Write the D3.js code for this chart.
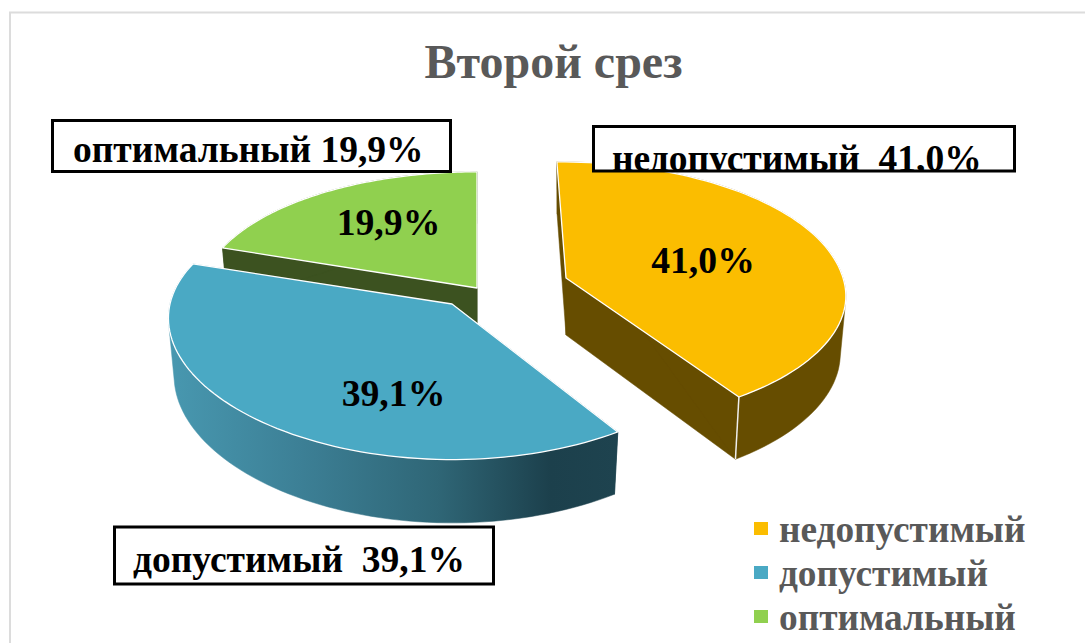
<!DOCTYPE html>
<html><head><meta charset="utf-8">
<script src="https://cdn.jsdelivr.net/npm/d3@7"></script>
<style>html,body{margin:0;padding:0;background:#fff}svg{display:block}text{font-family:"Liberation Serif",serif;font-weight:bold}</style>
</head><body><svg id="c" width="1085" height="643"></svg>
<script>
const title = "Второй срез";
const categories = ["недопустимый","допустимый","оптимальный"];
const values = [41.0,39.1,19.9];
const valueLabels = ["41,0%","39,1%","19,9%"];
const calloutTexts = ["недопустимый  41,0%","допустимый  39,1%","оптимальный 19,9%"];
const topColors = ["#FBBD00","#4AA9C4","#90D04F"];
const wallColors = ["#664D00","url(#blueWall)","#3C5220"];

const W=1085,H=643;
const svg=d3.select("#c");
const defs=svg.append("defs");
const grad=defs.append("linearGradient").attr("id","blueWall");
[[0,"#4898B0"],[.3,"#3C7F95"],[.6,"#2F6676"],[.85,"#1C404C"],[1,"#1E434F"]].forEach(s=>grad.append("stop").attr("offset",s[0]).attr("stop-color",s[1]));

// frame
svg.append("path").attr("d","M10,643V12.5H1085").attr("fill","none").attr("stroke","#DCDCDC").attr("stroke-width",2);

// geometry of the exploded perspective pie
const apex=[[566,278],[452,304],[477,288]];
const frontY=[.93,1,1];
const radiusX=[277,282,277];
const leanBy=[72,0,0];
const RY=133,KX=.105,KY=.145,DEPTH=57,BOTTOM_SHRINK=.98;
function project(i,a,r,down){
  const u=Math.sin(a)*r,v=Math.cos(a)*r;
  const sx=1/(1+KX*v),sy=1/(1+KY*v);
  const lean=leanBy[i]*(sy-1);
  const fy=v<0?frontY[i]:1;
  const dx=(radiusX[i]*u*sx+lean)*(down?BOTTOM_SHRINK:1);
  return [apex[i][0]+dx, apex[i][1]-RY*v*sy*fy+(down?DEPTH/(1+.1*v):0)];
}
const pie=d3.pie().sort(null).startAngle(0).endAngle(2*Math.PI)(values);
const line=d3.line().curve(d3.curveLinear);
const arcPts=(i,d,down)=>{
  const n=80, t=d3.scaleLinear().domain([0,n]).range([d.startAngle,d.endAngle]);
  return d3.range(n+1).map(k=>project(i,t(k),1,down));
};
[2,0,1].forEach(i=>{
  const d=pie[i],g=svg.append("g");
  const col=wallColors[i];
  const edge=a=>[project(i,a,0,false),project(i,a,1,false),project(i,a,1,true),project(i,a,0,true)];
  const wall=p=>g.append("path").attr("d",line(p)+"Z").attr("fill",col).attr("stroke",col).attr("stroke-width",.5);
  wall(edge(d.startAngle));
  wall(edge(d.endAngle));
  wall(d3.polygonHull(arcPts(i,d,false).concat(arcPts(i,d,true))));
  if(i===0){
    g.append("path").attr("d",line([project(i,d.endAngle,1,false),project(i,d.endAngle,1,true)])).attr("stroke","#EFEFEF").attr("stroke-width",1.5).attr("fill","none");
  }
  g.append("path").attr("d",line([project(i,d.startAngle,0,false)].concat(arcPts(i,d,false)))+"Z")
    .attr("fill",topColors[i]).attr("stroke","#fff").attr("stroke-width",1.3).attr("stroke-linejoin","round");
});

// value labels
const valuePos=[[703,273],[393.5,406],[388.5,235]];
valueLabels.forEach((t,i)=>svg.append("text").attr("x",valuePos[i][0]).attr("y",valuePos[i][1]).attr("text-anchor","middle").attr("font-size",37.7).attr("fill","#000").text(t));

// callouts
const boxes=[[593.5,126.5,421,44.5,612,171],[114.5,527,379,57,133,572],[52.5,120.5,398,51,73,162]];
calloutTexts.forEach((t,i)=>{
  const b=boxes[i];
  defs.append("clipPath").attr("id","cb"+i).append("rect").attr("x",b[0]).attr("y",b[1]).attr("width",b[2]).attr("height",b[3]);
  svg.append("rect").attr("x",b[0]).attr("y",b[1]).attr("width",b[2]).attr("height",b[3]).attr("fill","#fff");
  svg.append("text").attr("clip-path","url(#cb"+i+")").attr("x",b[4]).attr("y",b[5]).attr("font-size",37.5).attr("fill","#000").style("white-space","pre").text(t);
  svg.append("rect").attr("x",b[0]).attr("y",b[1]).attr("width",b[2]).attr("height",b[3]).attr("fill","none").attr("stroke","#000").attr("stroke-width",3);
});

// title
svg.append("text").attr("x",553.5).attr("y",78).attr("text-anchor","middle").attr("font-size",48).attr("fill","#595959").text(title);

// legend
const ly=d3.scalePoint().domain(categories).range([542,630]);
categories.forEach((c,i)=>{
  svg.append("rect").attr("x",754).attr("y",ly(c)-20).attr("width",14).attr("height",13).attr("fill",topColors[i]);
  svg.append("text").attr("x",779).attr("y",ly(c)).attr("font-size",37.3).attr("fill","#595959").text(c);
});
</script></body></html>
